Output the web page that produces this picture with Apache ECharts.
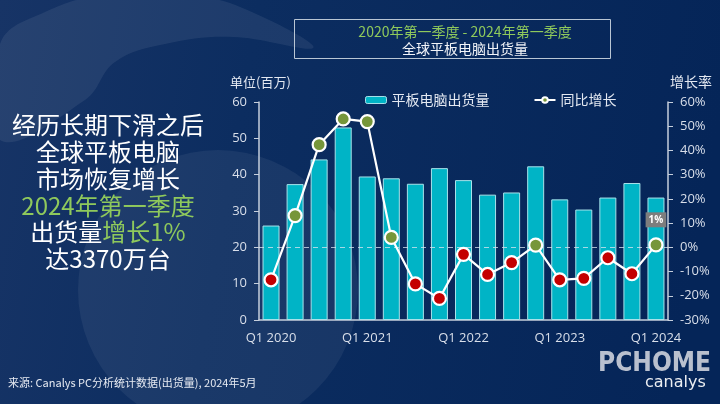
<!DOCTYPE html>
<html>
<head>
<meta charset="utf-8">
<script src="https://cdn.jsdelivr.net/npm/echarts@6/dist/echarts.min.js"></script>
<style>
  html, body { margin: 0; padding: 0; background: #0a2b5e; }
  #chart { width: 720px; height: 404px; }
</style>
</head>
<body>
<div id="chart"></div>
<script>
// quarters Q1 2020 .. Q1 2024
const quarters = [
  "Q1 2020", "Q2 2020", "Q3 2020", "Q4 2020",
  "Q1 2021", "Q2 2021", "Q3 2021", "Q4 2021",
  "Q1 2022", "Q2 2022", "Q3 2022", "Q4 2022",
  "Q1 2023", "Q2 2023", "Q3 2023", "Q4 2023",
  "Q1 2024"
];
// shipments, millions
const shipments = [26.0, 37.4, 44.2, 53.0, 39.5, 39.0, 37.5, 41.8, 38.5, 34.5, 35.1, 42.3, 33.2, 30.4, 33.7, 37.7, 33.7];
// year-over-year growth, %
const growth = [-13.4, 13.1, 42.4, 53.0, 51.9, 4.1, -15.1, -21.1, -2.9, -11.2, -6.3, 0.9, -13.4, -12.8, -4.3, -10.9, 1.0];

const leftLines = ["经历长期下滑之后", "全球平板电脑", "市场恢复增长"];

const chart = echarts.init(document.getElementById("chart"));
const cjk = '"Noto Sans CJK SC", "Open Sans", sans-serif';
const axisColor = "#c6cfdc";
const labelColor = "#d9dfea";
const green = "#8fc95c";

const option = {
  backgroundColor: {
    type: "linear", x: 0, y: 0, x2: 1, y2: 0.3,
    colorStops: [
      { offset: 0, color: "#173466" },
      { offset: 0.35, color: "#0c2d60" },
      { offset: 1, color: "#052558" }
    ]
  },
  textStyle: { fontFamily: cjk },
  grid: { left: 259, right: 52, top: 102, bottom: 84 },
  legend: {
    left: 360, top: 88,
    itemGap: 44,
    itemWidth: 21, itemHeight: 7,
    textStyle: { color: "#e3e8f1", fontSize: 14, fontFamily: cjk },
    data: [
      { name: "平板电脑出货量", itemStyle: { color: "#00b4c6", borderColor: "#a8e2ea", borderWidth: 1 } },
      { name: "同比增长", itemStyle: { color: "#76963a", borderColor: "#fff", borderWidth: 2 }, lineStyle: { color: "#fff", width: 2 } }
    ]
  },
  xAxis: {
    type: "category",
    data: quarters,
    axisLine: { lineStyle: { color: axisColor, width: 1.5 } },
    axisTick: { show: false },
    axisLabel: {
      interval: 3, color: labelColor, fontSize: 13, margin: 12,
      fontFamily: '"Open Sans", sans-serif'
    }
  },
  yAxis: [
    {
      type: "value", min: 0, max: 60, interval: 10,
      axisLine: { show: true, lineStyle: { color: axisColor, width: 1.5 } },
      axisTick: { show: true, length: 5, lineStyle: { color: axisColor } },
      splitLine: { show: false },
      axisLabel: { color: labelColor, fontSize: 13, margin: 12, fontFamily: '"Open Sans", sans-serif' }
    },
    {
      type: "value", min: -30, max: 60, interval: 10,
      axisLine: { show: true, lineStyle: { color: axisColor, width: 1.5 } },
      axisTick: { show: true, length: 5, lineStyle: { color: axisColor } },
      splitLine: { show: false },
      axisLabel: { color: labelColor, fontSize: 13, margin: 12, formatter: "{value}%", fontFamily: '"Open Sans", sans-serif' }
    }
  ],
  series: [
    {
      name: "平板电脑出货量",
      type: "bar",
      data: shipments,
      barWidth: 17,
      itemStyle: { color: "#00b4c6", borderColor: "#a8e2ea", borderWidth: 1 },
      z: 2
    },
    {
      name: "同比增长",
      type: "line",
      yAxisIndex: 1,
      data: growth.map((v, i) => {
        const item = { value: v };
        if (i === growth.length - 1) {
          item.label = {
            show: true, position: "top", distance: 10,
            formatter: "1%",
            backgroundColor: "#7d7d7d",
            color: "#fff", fontWeight: "bold", fontSize: 10,
            padding: [3, 3, 2, 3],
            fontFamily: '"Open Sans", sans-serif'
          };
        }
        return item;
      }),
      symbol: "circle",
      symbolSize: 13,
      lineStyle: { color: "#fff", width: 2.2 },
      itemStyle: {
        color: (p) => (p.value >= 0 ? "#76963a" : "#c40000"),
        borderColor: "#fff",
        borderWidth: 2.2
      },
      z: 5,
      markLine: {
        silent: true,
        symbol: "none",
        label: { show: false },
        lineStyle: { color: "rgba(220,230,240,0.75)", type: [5, 4], width: 1.2 },
        data: [{ yAxis: 0 }],
        z: 3
      }
    }
  ],
  graphic: [
    // decorative background shapes
    {
      type: "circle", shape: { cx: 218, cy: 290, r: 140 },
      style: { fill: "rgba(255,255,255,0.06)" }, z: -10, silent: true
    },
    {
      type: "polygon", z: -10, silent: true,
      shape: {
        smooth: 0.4,
        points: [[0, 44], [45, 12], [110, -6], [200, -4], [265, 18], [313, 48], [233, 37], [165, 44], [115, 62], [85, 100], [0, 140]]
      },
      style: { fill: "rgba(255,255,255,0.07)" }
    },
    // title box
    {
      type: "rect", z: 10,
      shape: { x: 294.5, y: 19.5, width: 316, height: 39 },
      style: { fill: "none", stroke: "#b9c6d4", lineWidth: 1 }
    },
    {
      type: "text", z: 10, x: 465, y: 32,
      style: { text: "2020年第一季度 - 2024年第一季度", fill: green, font: "14px " + cjk, align: "center", verticalAlign: "middle" }
    },
    {
      type: "text", z: 10, x: 465, y: 49,
      style: { text: "全球平板电脑出货量", fill: "#f2f4f8", font: "14px " + cjk, align: "center", verticalAlign: "middle" }
    },
    // axis captions
    {
      type: "text", z: 10, x: 230, y: 82,
      style: { text: "单位(百万)", fill: "#e3e8f1", font: "13px " + cjk, verticalAlign: "middle" }
    },
    {
      type: "text", z: 10, x: 670, y: 82,
      style: { text: "增长率", fill: "#e3e8f1", font: "14px " + cjk, verticalAlign: "middle" }
    },
    // left headline
    ...leftLines.map((t, i) => ({
      type: "text", z: 10, x: 108, y: 125 + i * 26.8,
      style: { text: t, fill: "#ffffff", font: "24px " + cjk, align: "center", verticalAlign: "middle" }
    })),
    {
      type: "text", z: 10, x: 108, y: 125 + 3 * 26.8,
      style: { text: "2024年第一季度", fill: green, font: "24px " + cjk, align: "center", verticalAlign: "middle" }
    },
    {
      type: "text", z: 10, x: 108, y: 125 + 4 * 26.8,
      style: {
        text: "{w|出货量}{g|增长1%}",
        align: "center", verticalAlign: "middle",
        rich: {
          w: { fill: "#ffffff", font: "24px " + cjk },
          g: { fill: green, font: "24px " + cjk }
        }
      }
    },
    {
      type: "text", z: 10, x: 108, y: 125 + 5 * 26.8,
      style: { text: "达3370万台", fill: "#ffffff", font: "24px " + cjk, align: "center", verticalAlign: "middle" }
    },
    // source
    {
      type: "text", z: 10, x: 8, y: 383,
      style: { text: "来源: Canalys PC分析统计数据(出货量), 2024年5月", fill: "#e6eaf2", font: "11px " + cjk, verticalAlign: "middle" }
    },
    // watermark
    {
      type: "text", z: 10, x: 598, y: 364,
      style: { text: "PCHOME", fill: "rgba(205,210,220,0.9)", font: "bold 26px 'DejaVu Sans Condensed', sans-serif", verticalAlign: "middle" }
    },
    {
      type: "text", z: 11, x: 645, y: 383,
      style: { text: "canalys", fill: "rgba(255,255,255,0.92)", font: "16px 'DejaVu Sans', sans-serif", verticalAlign: "middle" }
    }
  ]
};

chart.setOption(option);
</script>
</body>
</html>
